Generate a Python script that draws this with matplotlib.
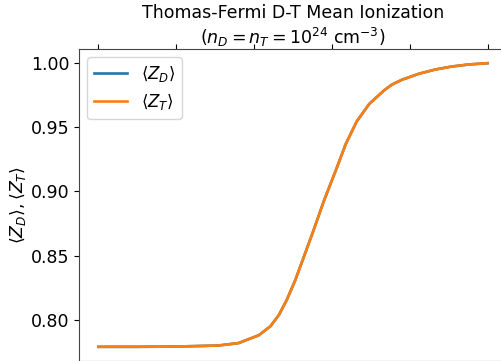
import matplotlib
matplotlib.use('Agg')
import matplotlib.pyplot as plt

# log10 of temperature (eV) and Thomas-Fermi mean ionization for D and T
log_temp = [0.00, 0.50, 1.00, 1.54, 1.80, 2.06, 2.21, 2.32, 2.42, 2.53, 2.64, 2.75,
            2.90, 3.05, 3.18, 3.32, 3.48, 3.67, 3.77, 3.90, 4.12, 4.33, 4.54, 4.76, 5.00]
z_d = [0.7790, 0.7790, 0.7792, 0.7800, 0.7819, 0.7880, 0.7950, 0.8039, 0.8155, 0.8310,
       0.8491, 0.8673, 0.8930, 0.9163, 0.9371, 0.9545, 0.9680, 0.9785, 0.9830, 0.9868,
       0.9915, 0.9948, 0.9971, 0.9987, 0.9997]
z_t = list(z_d)

fig = plt.figure(figsize=(5.02, 3.61), dpi=100)
ax = fig.add_axes([79/502, 0.0, 428/502, 312/361])

ax.plot(log_temp, z_d, color='#1f77b4', lw=1.9, label=r'$\langle Z_D \rangle$')
ax.plot(log_temp, z_t, color='#ff7f0e', lw=1.9, label=r'$\langle Z_T \rangle$')

ax.set_xticks([0, 1, 2, 3, 4, 5])
ax.tick_params(top=True, labelbottom=False, labelsize=12.5)
for s in ax.spines.values():
    s.set_edgecolor('#444444')
ax.set_yticks([0.80, 0.85, 0.90, 0.95, 1.00])
ax.set_ylabel(r'$\langle Z_D \rangle, \langle Z_T \rangle$', fontsize=12.5, labelpad=2)
ax.set_title('Thomas-Fermi D-T Mean Ionization\n'
             r'($n_D = n_T = 10^{24}$ cm$^{-3}$)', fontsize=12.5, pad=3)
ax.legend(loc='upper left', fontsize=12)

fig.savefig('out.png', dpi=100)
